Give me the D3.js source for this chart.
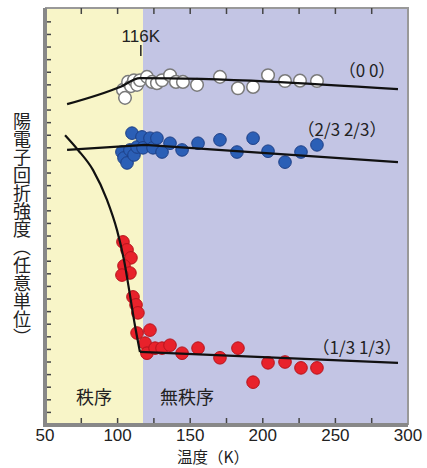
<!DOCTYPE html>
<html lang="ja">
<head>
<meta charset="utf-8" />
<title>陽電子回折強度</title>
<style>
  body { margin: 0; background: #fff; }
  svg { display: block; }
  .num { font-family: 'Liberation Sans', Arial, sans-serif; font-size: 17px; fill: #222; }
  .jp { font-family: 'Noto Sans CJK JP', sans-serif; fill: #222; }
</style>
</head>
<body>
<div id="chart"></div>
<script src="https://d3js.org/d3.v7.min.js"></script>
<script>
// ---- data (temperature K, intensity arb. units) ----
const whiteT = [103.7,105.1,107.2,109.2,111.3,113.4,115.4,120.2,123.7,127.1,130.6,136.1,140.2,145.0,154.7,170.5,182.9,193.3,203.6,215.3,225.6,237.3];
const whiteI = [79.8,77.9,81.7,80.7,82.1,81.0,82.1,82.9,81.7,81.4,82.1,83.3,81.7,81.7,81.0,82.9,80.2,80.5,83.3,81.9,82.0,81.9];

const blueT = [103.0,104.4,106.5,108.5,109.9,111.3,113.4,116.8,117.5,122.3,124.4,127.1,130.6,136.1,144.4,155.4,170.5,182.2,193.3,203.6,215.3,226.3,237.3];
const blueI = [65.0,63.6,62.4,65.5,69.5,64.3,66.2,68.6,66.0,68.3,66.0,68.3,65.0,67.1,65.5,67.1,67.9,65.0,68.3,65.2,62.6,65.0,66.7];

const redT = [103.7,106.5,109.2,104.4,108.5,103.0,110.6,112.7,114.0,113.4,122.3,118.9,120.2,125.8,130.6,136.1,144.4,155.4,170.5,182.9,193.3,203.6,215.3,226.3,237.3];
const redI = [43.6,41.7,39.8,37.9,36.2,35.7,30.5,28.6,26.7,21.9,22.6,19.5,17.1,18.3,18.3,19.0,17.1,18.3,16.0,18.3,10.2,14.8,15.0,13.6,13.6];

// guide lines
const whiteLineT = [65.2,101.7,115.4,293.1];
const whiteLineI = [76.4,80.5,82.6,80.0];
const blueLineT = [65.2,118.9,293.1];
const blueLineI = [65.5,66.7,62.6];
const redCurveT = [63.8,72.7,83.1,92.7,99.6,104.4,108.5,111.9,115.4];
const redCurveI = [69.0,65.5,60.7,53.6,46.4,39.3,31.0,23.8,17.4];
const redFlatT = [115.4,293.1];
const redFlatI = [17.4,14.8];

const xTicks = [50,100,150,200,250,300];
const xMinor = d3.range(75, 300, 25);
const tc = 116;           // transition temperature
const split = 117.5;      // ordered / disordered boundary

// ---- setup ----
const W = 427, H = 468;
const x = d3.scaleLinear().domain([50, 300]).range([45, 408]);
const y = d3.scaleLinear().domain([0, 99.3]).range([425, 8]);

const svg = d3.select("#chart").append("svg")
  .attr("width", W).attr("height", H);

// backgrounds
svg.append("rect")
  .attr("x", x(50)).attr("y", y(99.3))
  .attr("width", x(split) - x(50)).attr("height", y(0) - y(99.3))
  .attr("fill", "#f8f5c8");
svg.append("rect")
  .attr("x", x(split)).attr("y", y(99.3))
  .attr("width", x(300) - x(split)).attr("height", y(0) - y(99.3))
  .attr("fill", "#c3c5e4");

// frame: right/top thin, left/bottom thick gray
svg.append("path")
  .attr("d", `M${x(50)},${y(99.3)}H${x(300)}V${y(0)}`)
  .attr("fill", "none").attr("stroke", "#999").attr("stroke-width", 2);
svg.append("path")
  .attr("d", `M${x(50)},${y(99.3)}V${y(0)}H${x(300)}`)
  .attr("fill", "none").attr("stroke", "#888").attr("stroke-width", 4);

// ticks (inward)
const tk = svg.append("g").attr("stroke", "#444").attr("stroke-width", 1.5);
xMinor.forEach(t => {
  tk.append("line").attr("x1", x(t)).attr("x2", x(t)).attr("y1", y(0) - 2).attr("y2", y(0) - 7);
  tk.append("line").attr("x1", x(t)).attr("x2", x(t)).attr("y1", y(99.3)).attr("y2", y(99.3) + 6);
});
d3.range(3, 99, 3).forEach(v => {
  tk.append("line").attr("x1", x(50) + 2).attr("x2", x(50) + 6).attr("y1", y(v)).attr("y2", y(v));
});

// tick labels
svg.selectAll("text.xt").data(xTicks).enter().append("text")
  .attr("class", "num xt")
  .attr("x", d => x(d)).attr("y", 441)
  .attr("text-anchor", "middle")
  .text(d => d);

// points
function dots(T, I, fill, stroke, sw) {
  svg.append("g").selectAll("circle").data(T).enter().append("circle")
    .attr("cx", d => x(d))
    .attr("cy", (d, i) => y(I[i]))
    .attr("r", 6.3)
    .attr("fill", fill).attr("stroke", stroke).attr("stroke-width", sw);
}
dots(whiteT, whiteI, "#ffffff", "#7a7a7a", 1.5);
dots(blueT, blueI, "#2b5fb6", "#1d3f86", 1);
dots(redT, redI, "#e8222b", "#b5141c", 1);

// lines
function path(T, I, curve) {
  const line = d3.line().x(d => x(d[0])).y(d => y(d[1])).curve(curve);
  svg.append("path")
    .attr("d", line(T.map((t, i) => [t, I[i]])))
    .attr("fill", "none").attr("stroke", "#111").attr("stroke-width", 2.2);
}
path(whiteLineT, whiteLineI, d3.curveMonotoneX);
path(blueLineT, blueLineI, d3.curveLinear);
path(redCurveT, redCurveI, d3.curveMonotoneX);
path(redFlatT, redFlatI, d3.curveLinear);

// 116K marker
svg.append("line")
  .attr("x1", x(tc)).attr("x2", x(tc)).attr("y1", 45).attr("y2", 56)
  .attr("stroke", "#222").attr("stroke-width", 1.5);
svg.append("text").attr("class", "num")
  .attr("x", x(tc)).attr("y", 42).attr("text-anchor", "middle")
  .text("116K");

// series labels
const lab = (tx, ty, s, c) => svg.append("text").attr("class", "jp")
  .attr("x", tx).attr("y", ty).attr("text-anchor", "middle")
  .style("font-size", "17px").attr("fill", c).text(s);
lab(367, 77, "（0 0）", "#222");
lab(342, 136, "（2/3 2/3）", "#2b5fb6");
lab(357, 354, "（1/3 1/3）", "#e8222b");

// region labels
svg.append("text").attr("class", "jp").attr("x", 94).attr("y", 404)
  .attr("text-anchor", "middle").style("font-size", "18px").text("秩序");
svg.append("text").attr("class", "jp").attr("x", 187).attr("y", 404)
  .attr("text-anchor", "middle").style("font-size", "18px").text("無秩序");

// axis titles
svg.append("text").attr("class", "jp").attr("x", 213).attr("y", 463)
  .attr("text-anchor", "middle").style("font-size", "15.5px").text("温度（K）");
svg.append("text").attr("class", "jp")
  .attr("x", 22).attr("y", 112)
  .style("writing-mode", "vertical-rl")
  .style("font-size", "18px")
  .text("陽電子回折強度（任意単位）");
</script>
</body>
</html>
